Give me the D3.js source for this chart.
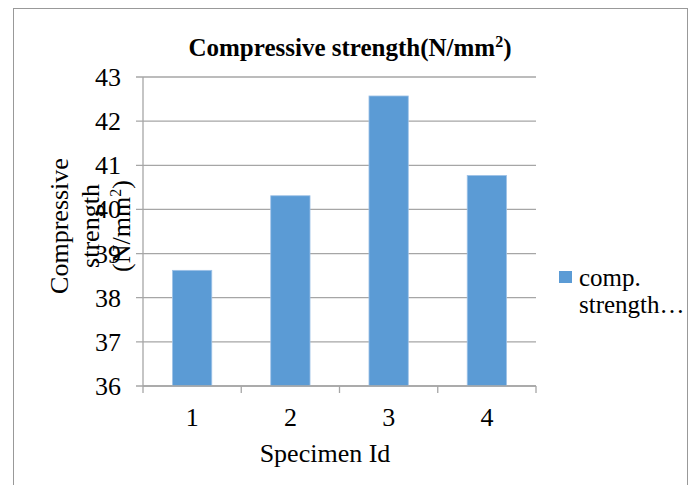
<!DOCTYPE html>
<html>
<head>
<meta charset="utf-8">
<script src="https://cdn.jsdelivr.net/npm/d3@7"></script>
<style>
    body { margin: 0; background: #fff; }
    text { font-family: "Liberation Serif", "Times New Roman", serif; fill: #000; }
</style>
</head>
<body>
<div id="chart"></div>
<script>
// Chart data
const specimens = ["1", "2", "3", "4"];
const strengthValues = [38.62, 40.31, 42.57, 40.77];
const yTicks = [36, 37, 38, 39, 40, 41, 42, 43];
const seriesName = ["comp.", "strength\u2026"];

const width = 697, height = 485;
const margin = {top: 77, right: 161, bottom: 99, left: 143};
const plotW = width - margin.left - margin.right;
const plotH = height - margin.top - margin.bottom;

const svg = d3.select("#chart").append("svg")
    .attr("width", width)
    .attr("height", height)
    .attr("font-family", "'Liberation Serif', 'Times New Roman', serif");

// Outer chart frame
svg.append("rect")
    .attr("x", 13.5).attr("y", 8.5)
    .attr("width", 674).attr("height", 500)
    .attr("fill", "none")
    .attr("stroke", "#999");

// Title
let title = svg.append("text")
    .attr("x", 350).attr("y", 56)
    .attr("text-anchor", "middle")
    .style("font-size", "25px")
    .style("font-weight", "bold");
title.append("tspan").text("Compressive strength(N/mm");
title.append("tspan").attr("dy", -9).style("font-size", "16px").text("2");
title.append("tspan").attr("dy", 9).text(")");

let g = svg.append("g")
    .attr("transform", `translate(${margin.left}, ${margin.top})`);

// Scales
let x = d3.scaleBand()
    .domain(specimens)
    .range([0, plotW])
    .paddingInner(0.6)
    .paddingOuter(0.3);

let y = d3.scaleLinear()
    .domain([d3.min(yTicks), d3.max(yTicks)])
    .range([plotH, 0]);

// Gridlines
g.selectAll(".grid")
    .data(yTicks)
    .enter()
    .append("line")
    .attr("x1", -7).attr("x2", plotW)
    .attr("y1", (d) => y(d)).attr("y2", (d) => y(d))
    .attr("stroke", "#a6a6a6")
    .attr("stroke-width", 1.3);

// Y axis line
g.append("line")
    .attr("x1", 0).attr("x2", 0)
    .attr("y1", 0).attr("y2", plotH)
    .attr("stroke", "#a6a6a6")
    .attr("stroke-width", 1.3);

// Y tick labels
g.selectAll(".ylab")
    .data(yTicks)
    .enter()
    .append("text")
    .attr("x", -22)
    .attr("y", (d) => y(d) + 9)
    .attr("text-anchor", "end")
    .style("font-size", "26px")
    .text((d) => d);

// Bars
g.selectAll("rect.bar")
    .data(strengthValues)
    .enter()
    .append("rect")
    .classed("bar", true)
    .attr("x", (d, i) => x(specimens[i]))
    .attr("y", (d) => y(d))
    .attr("width", x.bandwidth())
    .attr("height", (d) => plotH - y(d))
    .attr("fill", "#5b9bd5")
    .attr("stroke", "#9fc2e7")
    .attr("stroke-width", 0.8);

// X axis with ticks at category boundaries
let step = x.step();
let boundaries = d3.range(specimens.length + 1).map((i) => i * step);
g.append("line")
    .attr("x1", 0).attr("x2", plotW)
    .attr("y1", plotH).attr("y2", plotH)
    .attr("stroke", "#a6a6a6")
    .attr("stroke-width", 1.3);
g.selectAll(".xtick")
    .data(boundaries)
    .enter()
    .append("line")
    .attr("x1", (d) => d).attr("x2", (d) => d)
    .attr("y1", plotH).attr("y2", plotH + 7)
    .attr("stroke", "#a6a6a6")
    .attr("stroke-width", 1.3);

g.selectAll(".xlab")
    .data(specimens)
    .enter()
    .append("text")
    .attr("x", (d) => x(d) + x.bandwidth() / 2)
    .attr("y", plotH + 40)
    .attr("text-anchor", "middle")
    .style("font-size", "26px")
    .text((d) => d);

// X axis title
svg.append("text")
    .attr("x", 325).attr("y", 462)
    .attr("text-anchor", "middle")
    .style("font-size", "26px")
    .text("Specimen Id");

// Y axis title, three rotated lines
let yTitle = svg.append("text")
    .attr("transform", "translate(68, 226) rotate(-90)")
    .attr("text-anchor", "middle")
    .style("font-size", "26px");
yTitle.append("tspan").attr("x", 0).attr("y", 0).text("Compressive");
yTitle.append("tspan").attr("x", 0).attr("y", 31).text("strength");
yTitle.append("tspan").attr("x", 0).attr("y", 62).text("(N/mm");
yTitle.append("tspan").attr("dy", -9).style("font-size", "16px").text("2");
yTitle.append("tspan").attr("dy", 9).text(")");

// Legend
let legend = svg.append("g").attr("transform", "translate(559, 271)");
legend.append("rect")
    .attr("width", 13).attr("height", 12)
    .attr("fill", "#5b9bd5");
legend.selectAll("text")
    .data(seriesName)
    .enter()
    .append("text")
    .attr("x", 20)
    .attr("y", (d, i) => 15 + i * 27)
    .style("font-size", "25px")
    .text((d) => d);
</script>
</body>
</html>
